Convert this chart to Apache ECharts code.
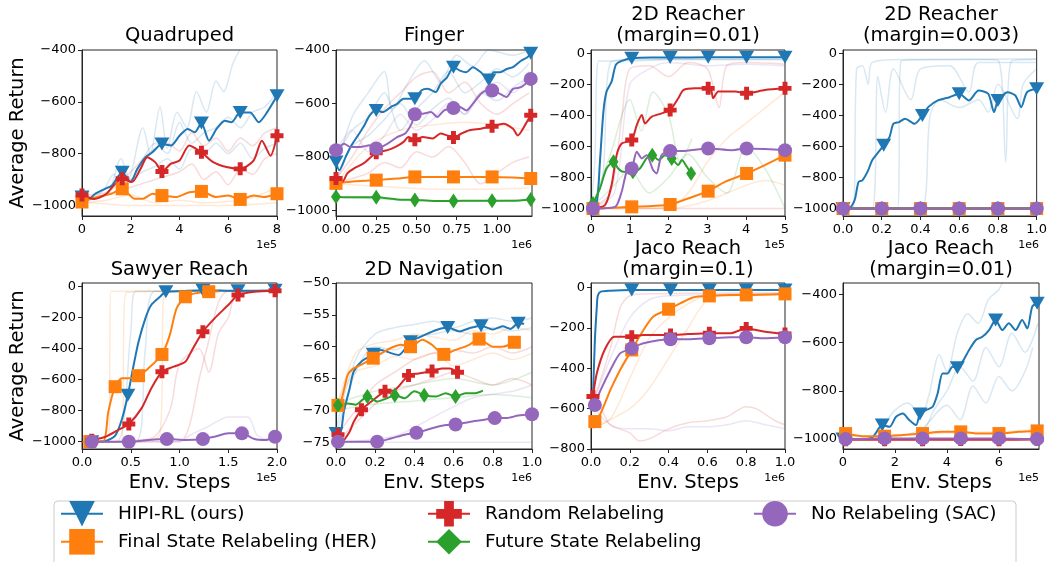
<!DOCTYPE html>
<html><head><meta charset="utf-8">
<script src="https://cdn.jsdelivr.net/npm/echarts@6/dist/echarts.min.js"></script>
<style>html,body{margin:0;padding:0;background:#fff}#c{width:1050px;height:562px}</style>
</head><body><div id="c"></div><script>
// ---------- tick labels ----------
const quad_xticks=[0,2,4,6,8], quad_yticks=[-1000,-800,-600,-400];
const fing_xticks=[0,0.25,0.5,0.75,1.0], fing_yticks=[-1000,-800,-600,-400];
const r1_xticks=[0,1,2,3,4,5], r1_yticks=[-1000,-800,-600,-400,-200,0];
const r2_xticks=[0,0.2,0.4,0.6,0.8,1.0], r2_yticks=[-1000,-800,-600,-400,-200,0];
const saw_xticks=[0,0.5,1.0,1.5,2.0], saw_yticks=[-1000,-800,-600,-400,-200,0];
const nav_xticks=[0,0.2,0.4,0.6,0.8,1.0], nav_yticks=[-75,-70,-65,-60,-55,-50];
const j1_xticks=[0,0.2,0.4,0.6,0.8,1.0], j1_yticks=[-800,-600,-400,-200,0];
const j2_xticks=[0,2,4,6], j2_yticks=[-1000,-800,-600,-400];

// ---------- main curves: [x, y, markerFlag] ----------
const quad_hipi=[[0,-968,1],[0.3,-974],[0.54,-955],[0.95,-936],[1.23,-923],[1.65,-872,1],[1.99,-910],[2.27,-859],[2.61,-814],[2.89,-795],[3.28,-763,1],[3.65,-769],[4.0,-731],[4.34,-705],[4.62,-718],[4.9,-682,1],[5.21,-750],[5.52,-705],[5.86,-673],[6.13,-679],[6.49,-641,1],[6.9,-641],[7.25,-679],[7.59,-641],[8.0,-577,1]];
const quad_her=[[0,-987,1],[0.6,-968],[1.2,-955],[1.65,-936,1],[2.15,-974],[2.5,-974],[2.9,-955],[3.28,-962,1],[3.85,-968],[4.4,-949],[4.9,-946,1],[5.5,-968],[6.0,-962],[6.49,-977,1],[7.04,-962],[7.45,-968],[8.0,-955,1]];
const quad_rand=[[0,-960,1],[0.5,-975],[1.0,-955],[1.3,-923],[1.65,-897,1],[2.05,-910],[2.4,-859],[2.68,-814],[3.0,-833],[3.28,-869,1],[3.65,-839],[4.0,-827],[4.4,-769],[4.9,-795,1],[5.38,-833],[5.93,-852],[6.49,-859,1],[7.04,-827],[7.38,-750],[7.73,-808],[8.0,-731,1]];

const fing_hipi=[[0,-818,1],[0.02,-849],[0.06,-799],[0.09,-762],[0.13,-725],[0.17,-688],[0.21,-644],[0.25,-626,1],[0.29,-632],[0.34,-613],[0.38,-601],[0.42,-582],[0.46,-582],[0.49,-582,1],[0.53,-551],[0.57,-545],[0.62,-557],[0.65,-526],[0.69,-502],[0.73,-464,1],[0.77,-477],[0.81,-483],[0.85,-464],[0.9,-483],[0.95,-512,1],[0.98,-483],[1.02,-483],[1.06,-471],[1.1,-464],[1.15,-440],[1.19,-427],[1.21,-412,1]];
const fing_her=[[0,-898,1],[0.09,-892],[0.25,-886,1],[0.38,-880],[0.49,-874,1],[0.61,-874],[0.73,-874,1],[0.85,-874],[0.97,-874,1],[1.1,-876],[1.21,-880,1]];
const fing_rand=[[0,-880,1],[0.04,-892],[0.07,-861],[0.11,-843],[0.17,-824],[0.25,-784,1],[0.32,-774],[0.37,-762],[0.42,-743],[0.45,-725],[0.49,-735,1],[0.54,-725],[0.6,-731],[0.65,-712],[0.69,-719],[0.73,-727,1],[0.78,-712],[0.83,-700],[0.9,-694],[0.97,-685,1],[1.04,-675],[1.1,-694],[1.13,-719],[1.18,-675],[1.21,-644,1]];
const fing_fut=[[0,-948,1],[0.07,-950],[0.25,-950,1],[0.38,-958],[0.49,-960,1],[0.61,-964],[0.73,-964,1],[0.85,-963],[0.97,-963,1],[1.1,-963],[1.21,-958,1]];
const fing_sac=[[0,-774,1],[0.05,-750],[0.09,-762],[0.15,-762],[0.21,-756],[0.25,-768,1],[0.32,-750],[0.38,-725],[0.43,-712],[0.47,-675],[0.49,-640,1],[0.54,-638],[0.59,-632],[0.63,-650],[0.67,-626],[0.73,-617,1],[0.77,-613],[0.81,-626],[0.85,-601],[0.9,-564],[0.94,-551],[0.97,-551,1],[1.02,-564],[1.06,-576],[1.1,-545],[1.15,-539],[1.19,-520],[1.21,-508,1]];

const r1_hipi=[[0,-1000],[0.15,-957],[0.23,-699],[0.32,-376],[0.4,-247],[0.53,-183],[0.64,-75],[0.79,-49],[1.05,-32,1],[1.56,-28],[2.04,-28,1],[3.02,-26,1],[4.01,-26,1],[5.0,-26,1]];
const r1_her=[[0.05,-1000,1],[1.05,-989,1],[1.56,-983],[2.04,-974,1],[2.5,-935],[3.02,-888,1],[3.45,-828],[4.01,-774,1],[4.48,-720],[5.0,-656,1]];
const r1_rand=[[0,-1000],[0.36,-978],[0.53,-849],[0.66,-656],[0.79,-581],[1.05,-559,1],[1.18,-462],[1.31,-398],[1.39,-452],[1.56,-409],[1.82,-387],[2.04,-366,1],[2.25,-290],[2.38,-237],[2.68,-226],[3.02,-226,1],[3.1,-240],[3.15,-290],[3.28,-247],[3.71,-247],[4.01,-258,1],[4.48,-237],[5.0,-226,1]];
const r1_fut=[[0.05,-968,1],[0.23,-871],[0.4,-742],[0.58,-699,1],[0.7,-742],[0.83,-763],[1.08,-763,1],[1.26,-742],[1.43,-677],[1.58,-656,1],[1.74,-688],[1.91,-656],[2.08,-677,1],[2.25,-720],[2.34,-688],[2.47,-731],[2.58,-774,1]];
const r1_sac=[[0.05,-1000,1],[0.62,-989],[0.79,-892],[0.92,-763],[1.05,-742,1],[1.18,-634],[1.31,-677],[1.43,-656],[1.6,-752],[1.69,-774],[1.82,-656],[2.04,-630,1],[2.34,-630],[3.02,-613,1],[3.63,-624],[4.01,-613,1],[4.48,-617],[5.0,-624,1]];

const r2_hipi=[[0,-1000,1],[0.03,-1000],[0.06,-946],[0.08,-829],[0.1,-818],[0.13,-754],[0.15,-690],[0.19,-625],[0.21,-593,1],[0.24,-540],[0.26,-454],[0.29,-443],[0.32,-422],[0.37,-454],[0.41,-400,1],[0.44,-347],[0.49,-304],[0.55,-283],[0.6,-261,1],[0.65,-304],[0.7,-240],[0.75,-261],[0.78,-379],[0.8,-304,1],[0.85,-251],[0.89,-272],[0.92,-347],[0.95,-251],[1.0,-229,1]];
const r2_her=[[0,-1000,1],[0.2,-1000,1],[0.4,-1000,1],[0.6,-1000,1],[0.8,-1000,1],[1.0,-1000,1]];
const r2_rand=[[0,-1000,1],[0.2,-1000,1],[0.4,-1000,1],[0.6,-1000,1],[0.8,-1000,1],[1.0,-1000,1]];
const r2_fut=[[0,-1000,1],[0.2,-1000,1],[0.4,-1000,1],[0.6,-1000,1],[0.8,-1000,1],[1.0,-1000,1]];
const r2_sac=[[0,-1000,1],[0.2,-1000,1],[0.4,-1000,1],[0.6,-1000,1],[0.8,-1000,1],[1.0,-1000,1]];

const saw_hipi=[[0.1,-1000,1],[0.24,-996],[0.34,-961],[0.41,-853],[0.47,-700,1],[0.53,-505],[0.58,-355],[0.65,-204],[0.71,-118],[0.8,-65],[0.86,-32,1],[1.02,-28],[1.24,-22,1],[1.6,-26,1],[1.98,-22,1]];
const saw_her=[[0.08,-1000,1],[0.22,-996],[0.27,-806],[0.34,-645,1],[0.41,-591],[0.49,-591],[0.58,-574,1],[0.68,-527],[0.82,-437,1],[0.9,-312],[0.97,-140],[1.06,-65,1],[1.16,-43],[1.3,-32,1],[1.4,-30]];
const saw_rand=[[0.1,-990,1],[0.24,-968],[0.37,-925],[0.48,-886,1],[0.61,-785],[0.71,-656],[0.82,-548,1],[0.94,-516],[1.06,-484],[1.12,-419],[1.24,-290,1],[1.36,-204],[1.5,-118],[1.6,-54,1],[1.77,-32],[1.98,-26,1]];
const saw_sac=[[0.1,-1000,1],[0.27,-1000],[0.48,-1000,1],[0.68,-989],[0.87,-983,1],[1.06,-989],[1.24,-983,1],[1.36,-968],[1.5,-946],[1.64,-946,1],[1.77,-983],[1.88,-989],[1.98,-968,1]];

const nav_hipi=[[0,-73.6,1],[0.02,-73.8],[0.04,-70.2],[0.07,-66.5],[0.09,-63.9],[0.13,-62.3],[0.19,-61.2,1],[0.23,-60.5],[0.28,-61.0],[0.32,-61.3],[0.38,-59.2,1],[0.42,-58.6],[0.47,-57.9],[0.52,-57.3],[0.57,-57.0,1],[0.63,-57.6],[0.68,-57.1],[0.74,-56.7,1],[0.8,-57.3],[0.85,-56.8],[0.89,-57.2],[0.93,-56.3,1],[0.96,-56.4]];
const nav_her=[[0.01,-69.2,1],[0.03,-68.1],[0.06,-64.4],[0.09,-63.4],[0.13,-62.8],[0.19,-61.8,1],[0.25,-60.7],[0.28,-60.2],[0.33,-59.7],[0.38,-60.0,1],[0.44,-58.9],[0.49,-59.7],[0.55,-61.2,1],[0.61,-60.5],[0.68,-59.7],[0.73,-58.8,1],[0.8,-60.0],[0.85,-60.0],[0.91,-59.3,1]];
const nav_rand=[[0.01,-73.8,1],[0.03,-74.9],[0.07,-73.3],[0.09,-71.8],[0.13,-69.9,1],[0.18,-68.6],[0.25,-67.0,1],[0.3,-66.8],[0.37,-64.5,1],[0.42,-64.2],[0.49,-63.8,1],[0.54,-63.4],[0.58,-63.4],[0.62,-64.0,1]];
const nav_fut=[[0.01,-69.2,1],[0.06,-68.9],[0.1,-69.1],[0.16,-67.8,1],[0.21,-68.6],[0.26,-68.1],[0.3,-67.6,1],[0.35,-68.1],[0.4,-67.0],[0.45,-67.6,1],[0.51,-67.8],[0.56,-67.3],[0.61,-67.8,1],[0.66,-67.3],[0.71,-67.3],[0.75,-66.9]];
const nav_sac=[[0.01,-74.9,1],[0.11,-74.9],[0.21,-74.9,1],[0.28,-74.4],[0.35,-73.8],[0.41,-73.5,1],[0.49,-72.8],[0.56,-72.3],[0.61,-72.2,1],[0.68,-71.8],[0.75,-71.5],[0.81,-71.2,1],[0.87,-71.2],[0.93,-70.8],[1.0,-70.6,1]];

const j1_hipi=[[0.005,-600],[0.01,-540],[0.02,-260],[0.03,-94],[0.035,-40],[0.05,-20],[0.1,-15],[0.21,-12,1],[0.41,-12,1],[0.61,-12,1],[0.8,-12,1],[1.0,-12,1]];
const j1_her=[[0.02,-664,1],[0.05,-623],[0.1,-507],[0.15,-408],[0.21,-309,1],[0.26,-226],[0.32,-144],[0.4,-107,1],[0.46,-78],[0.53,-48],[0.61,-41,1],[0.72,-36],[0.8,-36,1],[1.0,-31,1]];
const j1_rand=[[0.01,-540,1],[0.03,-425],[0.07,-309],[0.12,-243],[0.21,-243,1],[0.27,-235],[0.41,-235,1],[0.5,-230],[0.61,-226,1],[0.72,-226],[0.8,-202,1],[0.89,-218],[1.0,-230,1]];
const j1_sac=[[0.02,-582,1],[0.05,-507],[0.1,-408],[0.15,-326],[0.21,-301,1],[0.27,-276],[0.41,-256,1],[0.5,-256],[0.61,-251,1],[0.72,-246],[0.8,-246,1],[0.89,-251],[1.0,-246,1]];

const j2_hipi=[[0,-1000,1],[0.77,-1000],[1.15,-990],[1.51,-942,1],[1.79,-949],[2.04,-907],[2.3,-894],[2.55,-921],[2.81,-942],[2.96,-896,1],[3.19,-880],[3.45,-866],[3.64,-811],[3.83,-728],[4.02,-728],[4.21,-700],[4.4,-704,1],[4.6,-679],[4.85,-631],[5.11,-589],[5.36,-576],[5.62,-548],[5.87,-506,1],[6.13,-548],[6.38,-520],[6.64,-548],[6.89,-506],[7.09,-541],[7.28,-451],[7.47,-437,1]];
const j2_her=[[0.1,-977,1],[0.77,-988],[1.6,-988,1],[2.3,-983],[3.06,-977,1],[3.83,-970],[4.53,-970,1],[5.23,-977],[6.0,-977,1],[6.77,-970],[7.47,-966,1]];
const j2_rand=[[0.1,-1003,1],[1.6,-1003,1],[3.06,-1003,1],[4.53,-1002,1],[6.0,-1003,1],[7.47,-1002,1]];
const j2_sac=[[0.1,-1000,1],[1.6,-997,1],[3.06,-997,1],[4.53,-997,1],[6.0,-997,1],[7.47,-1000,1]];

// ---------- individual seed runs (faint) ----------
const quad_seed_hipi=[
 [[0,-975],[0.8,-950],[1.3,-880],[1.6,-950],[2,-880],[2.5,-700],[2.8,-800],[3.2,-620],[3.5,-780],[3.9,-640],[4.3,-700],[4.7,-560],[5.1,-640],[5.5,-520],[5.8,-560],[6.2,-450],[6.6,-380]],
 [[0,-980],[1,-960],[1.5,-900],[2,-900],[2.5,-820],[3,-760],[3.5,-800],[4,-680],[4.5,-760],[5,-720],[5.5,-700],[6,-660],[6.5,-700],[7,-640],[7.5,-620],[8,-560]],
 [[0,-970],[1,-960],[1.6,-820],[2,-900],[2.5,-870],[3,-850],[3.5,-820],[4,-860],[4.5,-780],[5,-800],[5.5,-760],[6,-800],[6.5,-760],[7,-820],[7.5,-780],[8,-760]]];
const quad_seed_rand=[
 [[0,-960],[1,-950],[2,-870],[2.5,-820],[3,-780],[3.5,-760],[4,-790],[4.5,-720],[5,-770],[5.5,-740],[6,-790],[6.5,-740],[7,-770],[7.5,-720],[8,-700]],
 [[0,-980],[1,-960],[2,-930],[3,-900],[4,-870],[4.5,-840],[5,-900],[5.5,-870],[6,-920],[6.5,-860],[7,-880],[7.5,-820],[8,-800]]];
const quad_seed_her=[
 [[0,-990],[1,-980],[2,-960],[3,-990],[4,-980],[5,-990],[6,-985],[7,-970],[8,-930]],
 [[0,-985],[2,-1000],[4,-1000],[6,-1000],[8,-990]]];

const fing_seed_hipi=[
 [[0,-850],[0.1,-650],[0.2,-560],[0.3,-480],[0.35,-620],[0.45,-520],[0.55,-440],[0.65,-520],[0.75,-420],[0.85,-460],[0.95,-400],[1.1,-420],[1.2,-400]],
 [[0,-800],[0.1,-700],[0.2,-650],[0.3,-560],[0.4,-700],[0.5,-620],[0.6,-560],[0.7,-480],[0.8,-560],[0.9,-520],[1.0,-470],[1.1,-500],[1.2,-450]],
 [[0,-900],[0.1,-760],[0.2,-720],[0.3,-660],[0.4,-600],[0.5,-680],[0.6,-620],[0.7,-580],[0.8,-640],[0.9,-560],[1.0,-590],[1.1,-540],[1.2,-500]]];
const fing_seed_rand=[
 [[0,-880],[0.1,-800],[0.2,-700],[0.3,-620],[0.4,-560],[0.5,-500],[0.6,-480],[0.7,-560],[0.8,-520],[0.9,-600],[1.0,-640],[1.1,-600],[1.2,-560]],
 [[0,-900],[0.1,-880],[0.2,-860],[0.3,-820],[0.4,-840],[0.5,-780],[0.6,-800],[0.7,-760],[0.8,-820],[0.9,-900],[1.0,-860],[1.1,-820],[1.2,-800]]];
const fing_seed_sac=[
 [[0,-780],[0.1,-700],[0.2,-780],[0.3,-720],[0.4,-640],[0.5,-700],[0.6,-660],[0.7,-600],[0.8,-640],[0.9,-560],[1.0,-520],[1.1,-560],[1.2,-480]]];
const fing_seed_her=[
 [[0,-900],[0.2,-760],[0.4,-700],[0.6,-680],[0.8,-670],[1.0,-680],[1.2,-700]],
 [[0,-900],[0.3,-910],[0.6,-920],[0.9,-920],[1.2,-915]]];
const fing_seed_fut=[[[0,-950],[0.4,-960],[0.8,-965],[1.2,-960]]];

const r1_seed_hipi=[
 [[0,-1000],[0.1,-700],[0.2,-50],[1,-50],[2,-40],[3,-40],[4,-40],[5,-40]],
 [[0,-1000],[0.3,-800],[0.5,-60],[1,-40],[5,-40]]];
const r1_seed_rand=[
 [[0,-1000],[0.5,-900],[0.8,-400],[1,-100],[1.5,-80],[2,-150],[2.5,-60],[3,-100],[3.3,-350],[3.5,-80],[4,-60],[5,-70]],
 [[0,-1000],[1,-1000],[5,-1000]]];
const r1_seed_sac=[[[0,-1000],[0.6,-900],[1,-200],[1.5,-100],[2,-60],[3,-80],[4,-70],[5,-80]]];
const r1_seed_fut=[
 [[0,-1000],[0.5,-650],[1,-300],[1.3,-500],[1.6,-250],[2,-400],[2.3,-700],[2.6,-550]],
 [[0,-1000],[0.6,-850],[1,-750],[1.5,-900],[2,-800],[2.5,-650],[3,-800],[3.5,-900],[4,-600],[4.5,-750],[5,-1000]]];
const r1_seed_her=[
 [[0,-1000],[1,-1000],[2,-990],[2.5,-900],[3,-700],[3.5,-550],[4,-450],[4.5,-350],[5,-250]],
 [[0,-1000],[2,-1000],[3,-950],[4,-850],[4.5,-820],[5,-850]]];

const r2_seed_hipi=[
 [[0,-1000],[0.05,-1000],[0.07,-100],[0.1,-80],[0.13,-200],[0.15,-60],[0.3,-40],[0.5,-40],[1,-35]],
 [[0,-1000],[0.28,-1000],[0.3,-50],[0.5,-40],[0.7,-40],[0.8,-45],[0.84,-700],[0.87,-50],[1,-40]],
 [[0,-1000],[0.4,-1000],[0.45,-400],[0.5,-300],[0.6,-350],[0.7,-300],[0.75,-380],[0.8,-200],[0.9,-420],[0.93,-200],[1,-100]],
 [[0,-1000],[0.15,-1000],[0.18,-150],[0.22,-380],[0.26,-100],[0.35,-300],[0.4,-100],[0.55,-80],[0.65,-250],[0.7,-60],[1,-60]]];

const saw_seed_her=[
 [[0,-1000],[0.27,-1000],[0.3,-30],[0.6,-30],[1,-30],[2,-30]],
 [[0,-1000],[0.4,-1000],[0.45,-40],[1,-30],[2,-30]],
 [[0,-1000],[0.6,-1000],[0.8,-950],[0.85,-40],[2,-30]]];
const saw_seed_hipi=[
 [[0,-1000],[0.35,-1000],[0.5,-300],[0.55,-30],[2,-30]],
 [[0,-1000],[0.55,-1000],[0.65,-400],[0.75,-30],[2,-30]]];
const saw_seed_rand=[
 [[0,-1000],[0.7,-980],[0.9,-800],[1.0,-500],[1.2,-400],[1.3,-550],[1.4,-300],[1.5,-200],[1.6,-30],[2,-30]],
 [[0,-1000],[1.0,-1000],[1.1,-900],[1.2,-600],[1.3,-350],[1.4,-100],[1.5,-30],[2,-30]]];
const saw_seed_sac=[[[0,-1000],[1.0,-1000],[1.1,-960],[1.3,-900],[1.5,-840],[1.7,-840],[1.8,-960],[2,-1000]]];

const nav_seed_hipi=[
 [[0,-73],[0.1,-62],[0.2,-58],[0.3,-57],[0.4,-56.5],[0.5,-56],[0.6,-57],[0.7,-56],[0.8,-55.5],[0.9,-56],[1.0,-55.5]],
 [[0,-74],[0.1,-64],[0.2,-60],[0.3,-60.5],[0.4,-58.5],[0.5,-58],[0.6,-57.5],[0.7,-58],[0.8,-57],[0.9,-57.5],[1.0,-57]]];
const nav_seed_her=[
 [[0,-70],[0.1,-61],[0.2,-59.5],[0.3,-59],[0.4,-58],[0.5,-58.5],[0.6,-59],[0.7,-57.5],[0.8,-58],[0.9,-57],[1.0,-57.5]],
 [[0,-69],[0.1,-64],[0.2,-63],[0.3,-61.5],[0.4,-62],[0.5,-61],[0.6,-63],[0.7,-62],[0.8,-61],[0.9,-62],[1.0,-61]]];
const nav_seed_rand=[
 [[0,-74],[0.1,-70],[0.2,-66],[0.3,-64],[0.4,-62],[0.5,-61],[0.6,-60.5],[0.7,-61],[0.8,-60],[0.9,-61],[1.0,-60]],
 [[0,-75],[0.1,-72],[0.2,-69],[0.3,-67],[0.4,-66],[0.5,-65],[0.6,-64],[0.7,-65],[0.8,-66],[0.9,-65],[1.0,-66]]];
const nav_seed_fut=[
 [[0,-69],[0.2,-67],[0.4,-66],[0.6,-65],[0.8,-66],[1.0,-64]],
 [[0,-70],[0.2,-69],[0.4,-68.5],[0.6,-68],[0.8,-67.5],[1.0,-68]]];
const nav_seed_sac=[
 [[0,-75],[1.0,-75]],
 [[0,-75],[0.3,-74],[0.5,-71],[0.7,-68],[0.9,-67],[1.0,-66]]];

const j1_seed_rand=[
 [[0,-560],[0.05,-600],[0.1,-680],[0.2,-720],[0.25,-760],[0.3,-750],[0.4,-700],[0.5,-670],[0.6,-660],[0.7,-640],[0.8,-590],[0.85,-600],[0.95,-660],[1.0,-680]],
 [[0,-600],[0.1,-300],[0.15,-100],[0.2,-40],[0.3,-30],[1,-25]]];
const j1_seed_sac=[
 [[0,-580],[0.1,-680],[0.2,-700],[0.3,-700],[0.4,-710],[0.5,-690],[0.6,-690],[0.7,-680],[0.8,-660],[0.9,-680],[1.0,-700]],
 [[0,-600],[0.1,-350],[0.2,-150],[0.3,-60],[0.4,-40],[1,-30]]];
const j1_seed_her=[
 [[0,-700],[0.1,-650],[0.2,-450],[0.3,-250],[0.4,-150],[0.5,-80],[0.6,-40],[1,-30]],
 [[0,-700],[0.2,-600],[0.3,-500],[0.4,-350],[0.5,-200],[0.6,-60],[0.7,-40],[1,-35]]];

const j2_seed_hipi=[
 [[0,-1000],[1,-1000],[1.5,-950],[2,-880],[2.5,-850],[3,-900],[3.3,-820],[3.7,-650],[4,-720],[4.4,-560],[4.8,-480],[5.2,-520],[5.6,-420],[6,-380],[6.2,-330]],
 [[0,-1000],[2,-1000],[3,-980],[3.5,-880],[4,-800],[4.5,-700],[5,-760],[5.5,-620],[6,-700],[6.5,-560],[7,-640],[7.5,-520]],
 [[0,-1000],[2,-990],[3,-960],[4,-860],[4.5,-920],[5,-780],[5.5,-850],[6,-740],[6.5,-800],[7,-720],[7.3,-620]]];
const j2_seed_her=[[[0,-990],[2,-985],[4,-975],[6,-970],[7.5,-960]]];

// ---------- styling ----------
const COLORS={hipi:'#1f77b4',her:'#ff7f0e',rand:'#d62728',fut:'#2ca02c',sac:'#9467bd'};
const NAMES={hipi:'HIPI-RL (ours)',her:'Final State Relabeling (HER)',rand:'Random Relabeling',fut:'Future State Relabeling',sac:'No Relabeling (SAC)'};
const SYMBOLS={hipi:'path://M0,0L2,0L1,1.75Z',her:'rect',rand:'path://M0.31,0H0.69V0.31H1V0.69H0.69V1H0.31V0.69H0V0.31H0.31Z',fut:'diamond',sac:'circle'};
const SIZES={hipi:[15,13],her:[13,13],rand:[13,13],fut:[10,15],sac:[14,14]};
const ORDER=['hipi','her','rand','fut','sac'];
const FONT='DejaVu Sans';

const panels=[
 {title:'Quadruped',ty:36,rect:[82,50,195,166],xr:[0,8],xt:quad_xticks,xd:0,yr:[-1041,-400],yt:quad_yticks,sci:'1e5',
  main:{hipi:quad_hipi,her:quad_her,rand:quad_rand},seeds:{hipi:quad_seed_hipi,rand:quad_seed_rand,her:quad_seed_her}},
 {title:'Finger',ty:36,rect:[336,50,196,166],xr:[0,1.218],xt:fing_xticks,xd:2,yr:[-1020,-400],yt:fing_yticks,sci:'1e6',
  main:{hipi:fing_hipi,her:fing_her,rand:fing_rand,fut:fing_fut,sac:fing_sac},seeds:{hipi:fing_seed_hipi,rand:fing_seed_rand,sac:fing_seed_sac,her:fing_seed_her,fut:fing_seed_fut}},
 {title:'2D Reacher\n(margin=0.01)',ty:25,rect:[591,50,194,166],xr:[0,5],xt:r1_xticks,xd:0,yr:[-1048,21],yt:r1_yticks,sci:'1e5',
  main:{hipi:r1_hipi,her:r1_her,rand:r1_rand,fut:r1_fut,sac:r1_sac},seeds:{hipi:r1_seed_hipi,rand:r1_seed_rand,sac:r1_seed_sac,fut:r1_seed_fut,her:r1_seed_her}},
 {title:'2D Reacher\n(margin=0.003)',ty:25,rect:[843,50,196,166],xr:[0,1],xt:r2_xticks,xd:1,yr:[-1048,21],yt:r2_yticks,sci:'1e6',
  main:{hipi:r2_hipi,her:r2_her,rand:r2_rand,fut:r2_fut,sac:r2_sac},seeds:{hipi:r2_seed_hipi}},
 {title:'Sawyer Reach',ty:270,rect:[82,283,195,166],xr:[0,2],xt:saw_xticks,xd:1,yr:[-1047,24],yt:saw_yticks,sci:'1e5',
  main:{hipi:saw_hipi,her:saw_her,rand:saw_rand,sac:saw_sac},seeds:{her:saw_seed_her,hipi:saw_seed_hipi,rand:saw_seed_rand,sac:saw_seed_sac}},
 {title:'2D Navigation',ty:270,rect:[336,283,196,166],xr:[0,1],xt:nav_xticks,xd:1,yr:[-76.05,-50],yt:nav_yticks,sci:'1e6',
  main:{hipi:nav_hipi,her:nav_her,rand:nav_rand,fut:nav_fut,sac:nav_sac},seeds:{hipi:nav_seed_hipi,her:nav_seed_her,rand:nav_seed_rand,fut:nav_seed_fut,sac:nav_seed_sac}},
 {title:'Jaco Reach\n(margin=0.1)',ty:259,rect:[591,283,194,166],xr:[0,1],xt:j1_xticks,xd:1,yr:[-800,23],yt:j1_yticks,sci:'1e6',
  main:{hipi:j1_hipi,her:j1_her,rand:j1_rand,sac:j1_sac},seeds:{rand:j1_seed_rand,sac:j1_seed_sac,her:j1_seed_her}},
 {title:'Jaco Reach\n(margin=0.01)',ty:259,rect:[843,283,196,166],xr:[0,7.54],xt:j2_xticks,xd:0,yr:[-1041,-353],yt:j2_yticks,sci:'1e5',
  main:{hipi:j2_hipi,her:j2_her,rand:j2_rand,sac:j2_sac},seeds:{hipi:j2_seed_hipi,her:j2_seed_her}}
];

const minus=v=>String(v).replace('-','\u2212');
const grid=[],xAxis=[],yAxis=[],series=[],graphic=[];
const axisCommon={splitLine:{show:false},axisLine:{show:true,onZero:false,lineStyle:{color:'#262626',width:1}}};
panels.forEach((p,i)=>{
  const [l,t,w,h]=p.rect;
  grid.push({left:l,top:t,width:w,height:h,show:true,borderColor:'#262626',borderWidth:1,backgroundColor:'transparent'});
  xAxis.push(Object.assign({type:'value',gridIndex:i,min:p.xr[0],max:p.xr[1],
    axisTick:{show:true,length:4,customValues:p.xt,lineStyle:{color:'#262626'}},
    axisLabel:{customValues:p.xt,formatter:v=>minus(Number(v).toFixed(p.xd)),fontSize:13,fontFamily:FONT,color:'#000',margin:7}},axisCommon));
  yAxis.push(Object.assign({type:'value',gridIndex:i,min:p.yr[0],max:p.yr[1],
    axisTick:{show:true,length:4,customValues:p.yt,lineStyle:{color:'#262626'}},
    axisLabel:{customValues:p.yt,formatter:v=>minus(v),fontSize:13,fontFamily:FONT,color:'#000',margin:6}},axisCommon));
  ORDER.forEach(k=>{(p.seeds[k]||[]).forEach(line=>series.push({type:'line',name:'seed',xAxisIndex:i,yAxisIndex:i,data:line,
    smooth:0.3,showSymbol:false,silent:true,z:1,lineStyle:{color:COLORS[k],width:1.5,opacity:0.17}}));});
  ORDER.forEach(k=>{ if(!p.main[k]) return;
    series.push({type:'line',name:NAMES[k],xAxisIndex:i,yAxisIndex:i,data:p.main[k],encode:{x:0,y:1},
      smooth:0.25,symbol:SYMBOLS[k],symbolSize:(v)=>(v&&v[2])?SIZES[k]:0,showSymbol:true,showAllSymbol:true,
      silent:true,z:2,itemStyle:{color:COLORS[k],opacity:1},lineStyle:{color:COLORS[k],width:2}});
  });
  const cx=l+w/2;
  graphic.push({type:'text',x:cx,y:p.ty,silent:true,style:{text:p.title,font:'19.5px "'+FONT+'"',fill:'#000',
    textAlign:'center',textVerticalAlign:'middle',align:'center',verticalAlign:'middle',lineHeight:21}});
  graphic.push({type:'text',x:l+w,y:t+h+29,silent:true,style:{text:p.sci,font:'11px "'+FONT+'"',fill:'#000',
    textAlign:'right',textVerticalAlign:'middle',align:'right',verticalAlign:'middle'}});
  if(i>=4) graphic.push({type:'text',x:cx,y:483,silent:true,style:{text:'Env. Steps',font:'19.5px "'+FONT+'"',fill:'#000',
    textAlign:'center',textVerticalAlign:'middle',align:'center',verticalAlign:'middle'}});
});
[133,366].forEach(yc=>graphic.push({type:'text',x:18,y:yc,rotation:Math.PI/2,silent:true,style:{text:'Average Return',
  font:'19.5px "'+FONT+'"',fill:'#000',textAlign:'center',textVerticalAlign:'middle',align:'center',verticalAlign:'middle'}}));
graphic.push({type:'rect',z:-1,silent:true,shape:{x:54,y:501,width:962,height:70,r:4},style:{fill:'rgba(255,255,255,0.8)',stroke:'#cccccc',lineWidth:1}});

const legPos=[['hipi',60,501],['her',60,529],['rand',427,501],['fut',427,529],['sac',753,501]];
const legend=legPos.map(([k,x,y])=>({data:[NAMES[k]],left:x,top:y,padding:0,itemWidth:42,itemHeight:32,selectedMode:false,
  textStyle:{fontSize:18.5,fontFamily:FONT,color:'#000',padding:[0,0,0,10]}}));

const chart=echarts.init(document.getElementById('c'),null,{renderer:'canvas'});
chart.setOption({animation:false,backgroundColor:'#fff',textStyle:{fontFamily:FONT},grid,xAxis,yAxis,series,graphic,legend});
</script></body></html>
